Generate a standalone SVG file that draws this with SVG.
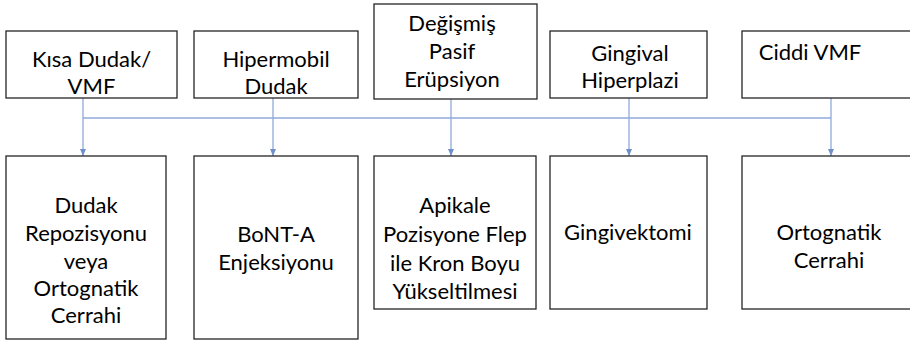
<svg xmlns="http://www.w3.org/2000/svg" width="910" height="342" viewBox="0 0 910 342">
  <style>
    .box { fill: #ffffff; stroke: #262626; stroke-width: 1.3; }
    .lbl { font-family: Lato, "Liberation Sans", sans-serif; font-size: 22px; fill: #000000; text-anchor: middle; }
    .conn { stroke: #8FAADC; stroke-width: 1.3; fill: none; }
  </style>
  <defs>
    <marker id="arrow" markerUnits="userSpaceOnUse" markerWidth="8" markerHeight="6" refX="7" refY="3" orient="auto">
      <path d="M0,0 L7,3 L0,6 Z" fill="#6F8FCB"/>
    </marker>
  </defs>
  <rect width="910" height="342" fill="#ffffff"/>

  <g id="connectors">
    <line class="conn" x1="83" y1="118" x2="831" y2="118"/>
    <line class="conn" x1="83" y1="98" x2="83" y2="156" marker-end="url(#arrow)"/>
    <line class="conn" x1="273" y1="98" x2="273" y2="156" marker-end="url(#arrow)"/>
    <line class="conn" x1="451" y1="99" x2="451" y2="156" marker-end="url(#arrow)"/>
    <line class="conn" x1="629" y1="98" x2="629" y2="156" marker-end="url(#arrow)"/>
    <line class="conn" x1="831" y1="98" x2="831" y2="156" marker-end="url(#arrow)"/>
  </g>

  <g id="n-kisa-dudak">
    <rect class="box" x="6" y="31" width="171" height="67"/>
    <text class="lbl" x="91.5" y="66.5">Kısa Dudak/</text>
    <text class="lbl" x="91.5" y="94">VMF</text>
  </g>
  <g id="n-hipermobil">
    <rect class="box" x="194" y="31" width="164" height="67"/>
    <text class="lbl" x="276" y="66.5">Hipermobil</text>
    <text class="lbl" x="276" y="94">Dudak</text>
  </g>
  <g id="n-degismis">
    <rect class="box" x="374" y="4" width="163" height="95"/>
    <text class="lbl" x="452" y="31">Değişmiş</text>
    <text class="lbl" x="452" y="59">Pasif</text>
    <text class="lbl" x="452" y="87">Erüpsiyon</text>
  </g>
  <g id="n-gingival">
    <rect class="box" x="550" y="31" width="157" height="67"/>
    <text class="lbl" x="630" y="61">Gingival</text>
    <text class="lbl" x="630" y="88">Hiperplazi</text>
  </g>
  <g id="n-ciddi">
    <rect class="box" x="742" y="31" width="175" height="67"/>
    <text class="lbl" x="810" y="60">Ciddi VMF</text>
  </g>

  <g id="n-dudak-repoz">
    <rect class="box" x="6" y="156" width="160" height="183"/>
    <text class="lbl" x="86" y="213">Dudak</text>
    <text class="lbl" x="86" y="241">Repozisyonu</text>
    <text class="lbl" x="86" y="269">veya</text>
    <text class="lbl" x="86" y="296">Ortognatik</text>
    <text class="lbl" x="86" y="323">Cerrahi</text>
  </g>
  <g id="n-bont">
    <rect class="box" x="194" y="156" width="164" height="183"/>
    <text class="lbl" x="276" y="242">BoNT-A</text>
    <text class="lbl" x="276" y="270">Enjeksiyonu</text>
  </g>
  <g id="n-apikale">
    <rect class="box" x="374" y="156" width="162" height="153"/>
    <text class="lbl" x="455" y="213">Apikale</text>
    <text class="lbl" x="455" y="242">Pozisyone Flep</text>
    <text class="lbl" x="455" y="271">ile Kron Boyu</text>
    <text class="lbl" x="455" y="299">Yükseltilmesi</text>
  </g>
  <g id="n-gingivektomi">
    <rect class="box" x="550" y="156" width="157" height="153"/>
    <text class="lbl" x="628" y="240">Gingivektomi</text>
  </g>
  <g id="n-ortognatik">
    <rect class="box" x="742" y="156" width="175" height="153"/>
    <text class="lbl" x="829" y="240">Ortognatik</text>
    <text class="lbl" x="829" y="268">Cerrahi</text>
  </g>
</svg>
